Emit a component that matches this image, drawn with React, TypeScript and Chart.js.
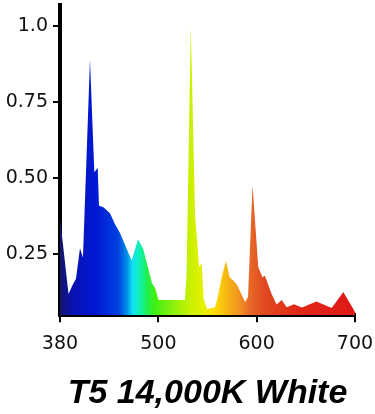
import React, { useEffect, useRef } from 'react';
import { Chart, registerables, LinearScale } from 'chart.js';

// ---- data ----
const WAVELENGTHS = [
  380, 390.4, 395.5, 399.5, 404.4, 408, 416.6, 421.9, 426, 427.6, 433, 441, 447, 453.2,
  467.5, 475.2, 481.3, 492.3, 496, 500.2, 527, 528.7, 533, 537.4, 541.4, 544.1, 546,
  549.5, 557.6, 559.7, 564.5, 568.8, 572.4, 576, 580, 588.2, 591.2, 595.8, 601.6, 605.9,
  608.4, 615.2, 620.3, 625.4, 630.5, 637.9, 646, 660.8, 676.3, 688.1, 698, 700,
];
const INTENSITY = [
  0.37, 0.12, 0.15, 0.17, 0.27, 0.24, 0.89, 0.52, 0.535, 0.41, 0.405, 0.385, 0.35, 0.32,
  0.23, 0.3, 0.27, 0.155, 0.14, 0.1, 0.1, 0.18, 1.0, 0.38, 0.21, 0.22, 0.105,
  0.07, 0.075, 0.1, 0.175, 0.23, 0.175, 0.165, 0.15, 0.093, 0.11, 0.478, 0.208, 0.175,
  0.18, 0.12, 0.085, 0.1, 0.076, 0.086, 0.075, 0.095, 0.074, 0.126, 0.072, 0.06,
];
const X_TICKS = [380, 500, 600, 700];
const X_LABELS = ['380', '500', '600', '700'];
const Y_TICKS = [0.25, 0.5, 0.75, 1.0];
const Y_LABELS = ['0.25', '0.50', '0.75', '1.0'];
const TITLE = 'T5 14,000K White';

// Axis in the reference places 380, 500, 600, 700 at equal spacing
class PiecewiseScale extends LinearScale {
  static id = 'piecewise';
  static defaults = LinearScale.defaults;
  getPixelForValue(value: number) {
    if (value === null || value === undefined || isNaN(value)) return NaN;
    const b = X_TICKS;
    const n = b.length - 1;
    let i = 0;
    while (i < n - 1 && value > b[i + 1]) i++;
    const frac = (i + (value - b[i]) / (b[i + 1] - b[i])) / n;
    return this.getPixelForDecimal(frac);
  }
  getValueForPixel(pixel: number) {
    const b = X_TICKS;
    const n = b.length - 1;
    const d = this.getDecimalForPixel(pixel) * n;
    const i = Math.min(Math.max(Math.floor(d), 0), n - 1);
    return b[i] + (d - i) * (b[i + 1] - b[i]);
  }
}

Chart.register(...registerables, PiecewiseScale);

const STOPS: [number, string][] = [
  [0.0, '#16166a'],
  [0.04, '#0a12b0'],
  [0.12, '#0018d4'],
  [0.197, '#0040e0'],
  [0.227, '#0090e8'],
  [0.247, '#10e4f0'],
  [0.271, '#10f0b0'],
  [0.295, '#20f050'],
  [0.322, '#40f010'],
  [0.373, '#80f010'],
  [0.44, '#c8f000'],
  [0.49, '#e8f000'],
  [0.52, '#ffe000'],
  [0.555, '#f8c010'],
  [0.61, '#f09020'],
  [0.644, '#e86828'],
  [0.695, '#e04820'],
  [0.81, '#e02818'],
  [1.0, '#e01818'],
];

export default function App() {
  const ref = useRef<HTMLCanvasElement | null>(null);
  useEffect(() => {
    document.body.style.margin = '0';
    const canvas = ref.current;
    if (!canvas) return;
    const chart = new Chart(canvas, {
      type: 'line',
      data: {
        datasets: [
          {
            data: WAVELENGTHS.map((x, i) => ({ x, y: INTENSITY[i] })),
            borderWidth: 0,
            pointRadius: 0,
            tension: 0,
            fill: 'start',
            backgroundColor: (ctx: any) => {
              const c = ctx.chart;
              const area = c.chartArea;
              if (!area) return '#0020e0';
              const g = c.ctx.createLinearGradient(area.left, 0, area.right, 0);
              STOPS.forEach(([o, col]) => g.addColorStop(o, col));
              return g;
            },
          },
        ],
      },
      options: {
        animation: false,
        responsive: false,
        devicePixelRatio: 1,
        layout: { padding: { top: 5, right: 20, left: 0, bottom: 0 } },
        plugins: {
          legend: { display: false },
          tooltip: { enabled: false },
          title: {
            display: true,
            position: 'bottom',
            fullSize: false,
            text: TITLE,
            color: '#000',
            font: { family: "'Liberation Sans', Arial, sans-serif", size: 34, weight: 'bold', style: 'italic' },
            padding: { top: 20, bottom: 0 },
          },
        },
        scales: {
          x: {
            type: 'piecewise' as any,
            min: 380,
            max: 700,
            afterBuildTicks: (s: any) => {
              s.ticks = X_TICKS.map((v) => ({ value: v }));
            },
            afterFit: (s: any) => {
              s.paddingLeft = 0;
              s.paddingRight = 0;
              s.height = 38;
            },
            ticks: {
              callback: (_v: any, i: number) => X_LABELS[i],
              font: { family: "'DejaVu Sans', sans-serif", size: 19 },
              color: '#111',
              padding: 10,
              maxRotation: 0,
              autoSkip: false,
            },
            grid: { display: true, drawOnChartArea: false, drawTicks: true, tickLength: 7, color: '#000', lineWidth: 2 },
            border: { display: true, color: '#000', width: 4 },
          },
          y: {
            type: 'linear',
            min: 0.05,
            max: 1.07,
            afterBuildTicks: (s: any) => {
              s.ticks = Y_TICKS.map((v) => ({ value: v }));
            },
            afterFit: (s: any) => {
              s.width = 60;
              s.paddingTop = 0;
              s.paddingBottom = 0;
            },
            ticks: {
              callback: (_v: any, i: number) => Y_LABELS[i],
              font: { family: "'DejaVu Sans', sans-serif", size: 19 },
              color: '#111',
              padding: 5,
              autoSkip: false,
            },
            grid: { display: true, drawOnChartArea: false, drawTicks: true, tickLength: 7, color: '#000', lineWidth: 2 },
            border: { display: true, color: '#000', width: 4 },
          },
        },
      } as any,
    });
    return () => chart.destroy();
  }, []);
  return (
    <div style={{ width: 375, height: 414, background: '#fff' }}>
      <canvas ref={ref} width={375} height={414} style={{ display: 'block' }} />
    </div>
  );
}
